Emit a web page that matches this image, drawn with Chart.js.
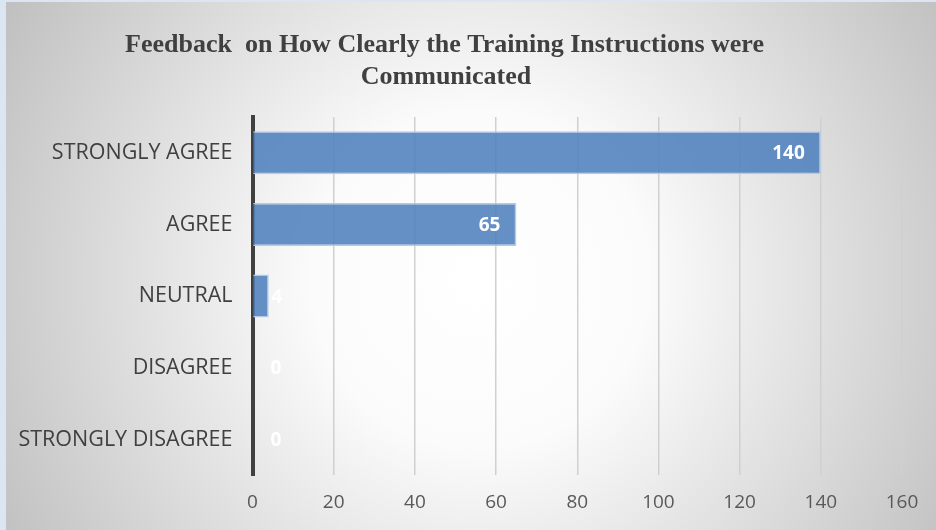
<!DOCTYPE html>
<html>
<head>
<meta charset="utf-8">
<script src="https://cdn.jsdelivr.net/npm/chart.js@4/dist/chart.umd.min.js"></script>
<style>
html,body{margin:0;padding:0;background:#dce6f2;}
#wrap{width:936px;height:530px;position:relative;}
</style>
</head>
<body>
<div id="wrap"><canvas id="c" width="936" height="530"></canvas></div>
<script>
const categories = ["STRONGLY AGREE", "AGREE", "NEUTRAL", "DISAGREE", "STRONGLY DISAGREE"];
const responses = [140, 65, 4, 0, 0];
const xTicks = [0, 20, 40, 60, 80, 100, 120, 140, 160];
const titleLines = ["Feedback  on How Clearly the Training Instructions were", "Communicated"];

const bgPlugin = {
  id: 'bg',
  beforeDraw(chart) {
    const ctx = chart.ctx;
    ctx.save();
    ctx.fillStyle = '#dce6f2';
    ctx.fillRect(0, 0, chart.width, chart.height);
    const g = ctx.createRadialGradient(480, 280, 0, 480, 280, 560);
    g.addColorStop(0, '#ffffff');
    g.addColorStop(0.3, '#fbfbfb');
    g.addColorStop(1, '#bebebe');
    ctx.fillStyle = g;
    ctx.fillRect(6, 2, chart.width - 6, chart.height - 2);
    // title
    ctx.fillStyle = '#404040';
    ctx.font = 'bold 26px "Liberation Serif"';
    ctx.textAlign = 'center';
    ctx.textBaseline = 'alphabetic';
    ctx.fillText(titleLines[0], 444.5, 52);
    ctx.fillText(titleLines[1], 446, 83.5);
    ctx.restore();
  }
};

const labelPlugin = {
  id: 'vals',
  afterDatasetsDraw(chart) {
    const ctx = chart.ctx;
    const meta = chart.getDatasetMeta(0);
    ctx.save();
    ctx.font = 'bold 19px "Open Sans"';
    ctx.fillStyle = '#ffffff';
    ctx.textBaseline = 'middle';
    meta.data.forEach((bar, i) => {
      const txt = String(responses[i]);
      const w = ctx.measureText(txt).width;
      const len = bar.x - bar.base;
      if (len > w + 24) {
        ctx.textAlign = 'right';
        ctx.fillText(txt, bar.x - 16, bar.y + 1);
      } else {
        ctx.textAlign = 'left';
        ctx.fillText(txt, bar.base + 18, bar.y + 1);
      }
    });
    ctx.restore();
  }
};

new Chart(document.getElementById('c'), {
  type: 'bar',
  data: {
    labels: categories,
    datasets: [{
      data: responses,
      backgroundColor: 'rgba(79,129,189,0.88)',
      borderColor: '#b4cbe8',
      borderWidth: 1.5,
      borderSkipped: 'left',
      categoryPercentage: 0.6,
      barPercentage: 1.0
    }]
  },
  options: {
    indexAxis: 'y',
    responsive: false,
    animation: false,
    devicePixelRatio: 1,
    layout: { padding: { left: 8, right: 34, top: 117, bottom: 0 } },
    plugins: {
      legend: { display: false },
      tooltip: { enabled: false },
      title: { display: false }
    },
    scales: {
      x: {
        min: 0, max: 160,
        afterBuildTicks(scale) { scale.ticks = xTicks.map(v => ({ value: v })); },
        grid: { color: '#d0d0d0', lineWidth: 1.5, drawTicks: false },
        border: { display: false },
        ticks: { color: '#595959', font: { family: '"Open Sans"', size: 19 }, padding: 16 }
      },
      y: {
        grid: { display: false },
        border: { display: true, color: '#404040', width: 4 },
        ticks: { color: '#404040', font: { family: '"Open Sans"', size: 21.5 }, padding: 12 },
        afterFit(scale) { scale.width = 244.5; }
      }
    }
  },
  plugins: [bgPlugin, labelPlugin]
});
</script>
</body>
</html>
